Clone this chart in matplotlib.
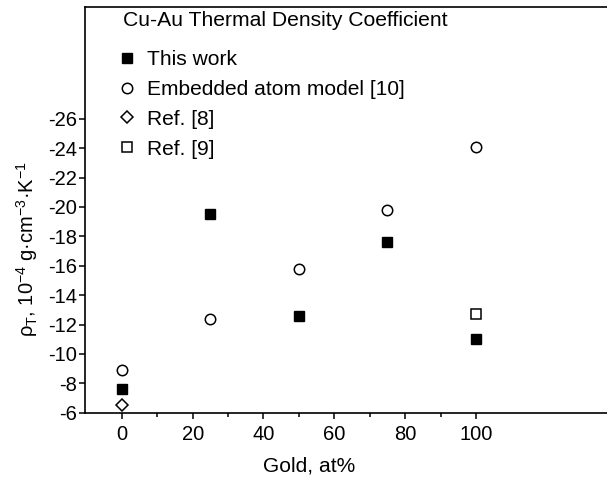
import matplotlib
matplotlib.use("Agg")
import matplotlib.pyplot as plt
from matplotlib.ticker import FixedLocator

plt.rcParams['font.family'] = ['Liberation Sans', 'DejaVu Sans']
plt.rcParams['mathtext.fontset'] = 'custom'
plt.rcParams['mathtext.rm'] = 'Liberation Sans'
plt.rcParams['mathtext.it'] = 'Liberation Sans:italic'
plt.rcParams['axes.unicode_minus'] = False

# Data
this_work_x = [0, 25, 50, 75, 100]
this_work_y = [-7.6, -19.5, -12.6, -17.6, -11.0]
eam_x = [0, 25, 50, 75, 100]
eam_y = [-8.9, -12.4, -15.8, -19.8, -24.1]
ref8_x = [0]
ref8_y = [-6.5]
ref9_x = [100]
ref9_y = [-12.7]

x_ticks = [0, 20, 40, 60, 80, 100]
x_minor = [10, 30, 50, 70, 90]
y_ticks = [-26, -24, -22, -20, -18, -16, -14, -12, -10, -8, -6]

fig = plt.figure(figsize=(6.07, 4.82), dpi=100)
ax = fig.add_axes([85/607, 1-412.7/482, 1-85/607, (412.7-7)/482])

ax.plot(this_work_x, this_work_y, ls='none', marker='s', ms=7.2, mfc='black', mec='black', label='This work')
ax.plot(eam_x, eam_y, ls='none', marker='o', ms=7.5, mfc='white', mec='black', mew=1.1, label='Embedded atom model [10]')
ax.plot(ref8_x, ref8_y, ls='none', marker='D', ms=6.2, mfc='white', mec='black', mew=1.1, label='Ref. [8]')
ax.plot(ref9_x, ref9_y, ls='none', marker='s', ms=6.8, mfc='white', mec='black', mew=1.1, label='Ref. [9]')

ax.set_xlim(-10.4, 137)
ax.set_ylim(-6, -33.6)

ax.xaxis.set_major_locator(FixedLocator(x_ticks))
ax.xaxis.set_minor_locator(FixedLocator(x_minor))
ax.yaxis.set_major_locator(FixedLocator(y_ticks))
ax.set_yticklabels([str(v) for v in y_ticks])
ax.set_xticklabels([str(v) for v in x_ticks])

ax.spines['right'].set_visible(False)
for s in ['left', 'top', 'bottom']:
    ax.spines[s].set_linewidth(1.2)

ax.tick_params(axis='both', which='major', direction='out', length=4, width=1.1, labelsize=14.5, pad=2)
ax.tick_params(axis='x', which='minor', direction='out', length=3, width=1.1)
ax.tick_params(axis='x', which='major', pad=5)

ax.set_xlabel('Gold, at%', fontsize=15.1)
ax.xaxis.set_label_coords((309-85)/522, -(466-412.7)/405.7)
ax.xaxis.label.set_va('center')
ax.set_ylabel(r'ρ$_\mathrm{T}$, 10$^{-4}$ g·cm$^{-3}$·K$^{-1}$', fontsize=14.5)
ax.yaxis.set_label_coords(-(85-27)/522, (412.7-249)/405.7)
ax.yaxis.label.set_va('center')

ax.text((123-85)/522, 1-(21-7)/405.7, 'Cu-Au Thermal Density Coefficient', transform=ax.transAxes,
        fontsize=15.2, ha='left', va='center')

leg = ax.legend(loc='upper left', bbox_to_anchor=((121-85)/522, 1-(50-7)/405.7), frameon=False,
                fontsize=15.1, handlelength=0.6, handletextpad=0.65, labelspacing=0.52,
                borderpad=0, borderaxespad=0, numpoints=1)

fig.savefig('out.png', dpi=100)
